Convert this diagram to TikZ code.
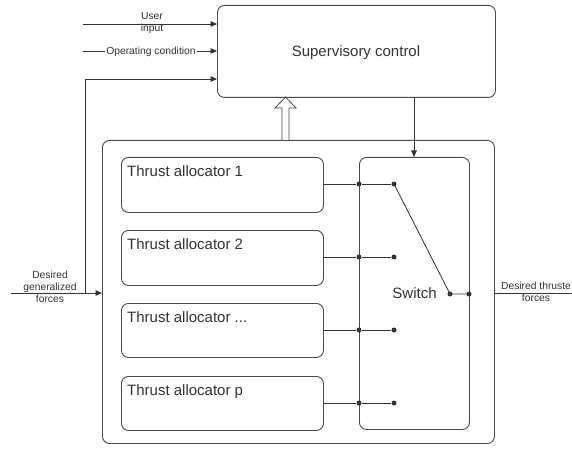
\documentclass[tikz,border=0pt]{standalone}
\usepackage{fontspec}
\setmainfont{Liberation Sans}
\usetikzlibrary{arrows.meta}
\definecolor{ink}{HTML}{333333}
\definecolor{edge}{HTML}{4A4A4A}
\begin{document}
\begin{tikzpicture}[x=1pt,y=-1pt,
  block/.style={draw=edge, line width=0.9pt, rounded corners=7pt, anchor=north west,
    inner sep=0pt, fill=white},
  wire/.style={draw=ink, line width=0.8pt},
  sig/.style={wire, -{Triangle[length=6.5pt,width=5.5pt]}},
  big/.style={font=\fontsize{15}{18}\selectfont, text=ink, inner sep=0pt},
  small/.style={font=\fontsize{10.3}{12}\selectfont, text=ink, inner sep=0pt, align=center},
  junction/.style={circle, fill=ink, inner sep=0pt, minimum size=5pt}]
\useasboundingbox (0,0) rectangle (572,449);

% main blocks
\node[block, minimum width=278pt, minimum height=92pt] (sup) at (217,5) {};
\node[big, anchor=base] (suptext) at (356,57) {Supervisory control};
\node[block, minimum width=392pt, minimum height=303pt] (outer) at (102,140) {};
\node[block, minimum width=110pt, minimum height=272pt] (sw) at (359,157) {};
\node[big, anchor=base] (swtext) at (414.5,298) {Switch};

% thrust allocators
\node[block, minimum width=202pt, minimum height=55pt] (ta1) at (121,157) {};
\node[block, minimum width=202pt, minimum height=55pt] (ta2) at (121,230) {};
\node[block, minimum width=202pt, minimum height=54pt] (ta3) at (121,303) {};
\node[block, minimum width=202pt, minimum height=54pt] (ta4) at (121,376) {};
\node[big, anchor=base west] (ta1t) at (127,176) {Thrust allocator 1};
\node[big, anchor=base west] (ta2t) at (127,249) {Thrust allocator 2};
\node[big, anchor=base west] (ta3t) at (127,322) {Thrust allocator ...};
\node[big, anchor=base west] (ta4t) at (127,395) {Thrust allocator p};

% switch contacts
\foreach \i/\y in {1/184,2/257,3/330,4/403}{
  \node[junction] (ja\i) at (359,\y) {};
  \node[junction] (jb\i) at (394,\y) {};
  \draw[wire] (ta\i.east |- ja\i) -- (ja\i) -- (jb\i);
}
\node[junction] (pole) at (450,294) {};
\node[junction] (swout) at (469,294) {};
\draw[wire] (jb1.center) -- (pole.center) -- (swout.center);

% supervisory inputs
\coordinate (uin) at (83,24);
\coordinate (opin) at (83,51);
\draw[sig] (uin) -- (uin -| sup.west);
\node[small, anchor=center] (utext) at (152,23.3) {User\\input};
\draw[sig] (opin) -- (opin -| sup.west);
\node[small, anchor=base, fill=white, inner xsep=1.5pt] (optext) at (151,55) {Operating condition};

% generalized forces input with feedback to the supervisor
\coordinate (gin) at (11,293);
\coordinate (tap) at (85,293);
\coordinate (fb) at (85,79);
\draw[sig] (gin) -- (gin -| outer.west);
\draw[sig] (tap) -- (fb) -- (fb -| sup.west);
\node[small, anchor=north] (gtext) at (50,270.7) {Desired\\generalized\\forces};

% thrust forces output
\coordinate (gout) at (572,293);
\draw[wire] (gout -| outer.east) -- (gout);
\node[small, anchor=north] (ttext) at (536,281.7) {Desired thruste\\forces};

% switch command
\coordinate (cmd) at (414,97);
\draw[sig] (cmd) -- (cmd |- sw.north);

% hollow status arrow
\coordinate (hb) at (285.5,140);
\draw[draw=edge, line width=0.8pt, fill=white]
  ([xshift=-3.5pt]hb) -- ++(0,-32) -- ++(-7,0) -- ++(10.5,-11) -- ++(10.5,11)
  -- ++(-7,0) -- ++(0,32);
\end{tikzpicture}
\end{document}
